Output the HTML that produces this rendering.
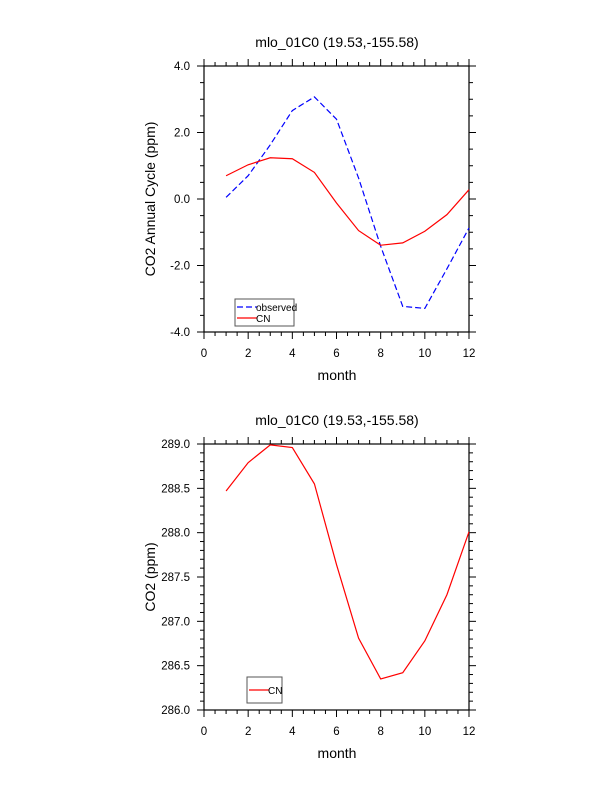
<!DOCTYPE html>
<html><head><meta charset="utf-8"><style>
html,body{margin:0;padding:0;background:#fff;}
svg{display:block;font-family:"Liberation Sans",Arial,sans-serif;}
</style></head><body>
<svg id="chart" width="612" height="792" xmlns="http://www.w3.org/2000/svg"></svg>
<script>
const months=[1,2,3,4,5,6,7,8,9,10,11,12];
const observedCycle=[0.05,0.70,1.63,2.66,3.07,2.40,0.63,-1.42,-3.23,-3.29,-2.10,-0.87];
const cnCycle=[0.70,1.03,1.24,1.21,0.80,-0.12,-0.95,-1.39,-1.32,-0.97,-0.47,0.28];
const cnCO2=[288.47,288.79,288.99,288.96,288.55,287.64,286.81,286.35,286.42,286.78,287.30,288.01];
const xTicks=[0,2,4,6,8,10,12];
const yTicks1=["-4.0","-2.0","0.0","2.0","4.0"];
const yTicks2=["286.0","286.5","287.0","287.5","288.0","288.5","289.0"];

const NS="http://www.w3.org/2000/svg";
const svg=document.getElementById('chart');
function mk(tag,attrs,parent){const e=document.createElementNS(NS,tag);for(const k in attrs)e.setAttribute(k,attrs[k]);(parent||svg).appendChild(e);return e;}

function panel(cfg){
  const L=204,R=469,T=cfg.top,B=cfg.bottom;
  const g=mk('g',{});
  
  
  const xs=v=>L+(v-0)/12*(R-L);
  const ys=v=>B-(v-cfg.ymin)/(cfg.ymax-cfg.ymin)*(B-T);
  for(let v=0;v<=12.001;v+=0.5){
    const maj=Math.abs(v%2)<1e-6;const len=maj?7:4;const x=xs(v);
    mk('line',{x1:x,y1:B,x2:x,y2:B+len,stroke:'#000','stroke-width':1},g);
    mk('line',{x1:x,y1:T,x2:x,y2:T-len,stroke:'#000','stroke-width':1},g);
  }
  const n=Math.round((cfg.ymax-cfg.ymin)/cfg.minor);
  for(let i=0;i<=n;i++){
    const v=cfg.ymin+i*cfg.minor;const maj=i%cfg.per===0;const len=maj?7:4;const y=ys(v);
    mk('line',{x1:L,y1:y,x2:L-len,y2:y,stroke:'#000','stroke-width':1},g);
    mk('line',{x1:R,y1:y,x2:R+len,y2:y,stroke:'#000','stroke-width':1},g);
  }
  mk('rect',{x:L,y:T,width:R-L,height:B-T,fill:'none',stroke:'#000','stroke-width':1.2},g);
  xTicks.forEach(v=>{const t=mk('text',{x:xs(v),y:B+25,'font-size':11.5,'text-anchor':'middle'},g);t.textContent=v;
    });
  cfg.yt.forEach(s=>{const t=mk('text',{x:L-14,y:ys(parseFloat(s))+4,'font-size':11.5,'text-anchor':'end'},g);t.textContent=s;
    });
  const tt=mk('text',{x:337,y:T-19,'font-size':14,'text-anchor':'middle'},g);tt.textContent='mlo_01C0 (19.53,-155.58)';
  
  const xt=mk('text',{x:337,y:B+48,'font-size':14,'text-anchor':'middle'},g);xt.textContent='month';
  
  const yc=(T+B)/2;
  const yt=mk('text',{x:cfg.ylx,y:yc,'font-size':14,'text-anchor':'middle',transform:`rotate(-90 ${cfg.ylx} ${yc})`},g);yt.textContent=cfg.ylabel;
  
  cfg.series.forEach(s=>{
    const p=mk('polyline',{points:months.map((m,i)=>xs(m)+','+ys(s.vals[i])).join(' '),fill:'none',stroke:s.color,'stroke-width':1.2},g);
    if(s.dash)p.setAttribute('stroke-dasharray',s.dash);
    
  });
  return g;
}
panel({name:'annual-cycle-panel',top:66,bottom:332,ymin:-4,ymax:4,minor:0.5,per:4,yt:yTicks1,ylabel:'CO2 Annual Cycle (ppm)',ylx:155,
  series:[{name:'observed-line',vals:observedCycle,color:'#0000ff',dash:'6,3'},{name:'cn-line',vals:cnCycle,color:'#ff0000'}]});
panel({name:'co2-panel',top:444,bottom:710,ymin:286,ymax:289,minor:0.1,per:5,yt:yTicks2,ylabel:'CO2 (ppm)',ylx:155,
  series:[{name:'cn-co2-line',vals:cnCO2,color:'#ff0000'}]});
</script>
<script>
(function(){
  const NS="http://www.w3.org/2000/svg";const svg=document.getElementById('chart');
  function mk(tag,attrs,parent){const e=document.createElementNS(NS,tag);for(const k in attrs)e.setAttribute(k,attrs[k]);(parent||svg).appendChild(e);return e;}
  const l1=mk('g',{});
  
  
  mk('rect',{x:235,y:299,width:59,height:27,fill:'#fff',stroke:'#555','stroke-width':1},l1);
  mk('line',{x1:237,y1:307,x2:257,y2:307,stroke:'#0000ff','stroke-width':1.2,'stroke-dasharray':'6,3'},l1);
  let t=mk('text',{x:256,y:311,'font-size':10},l1);t.textContent='observed';
  mk('line',{x1:237,y1:318,x2:257,y2:318,stroke:'#ff0000','stroke-width':1.2},l1);
  t=mk('text',{x:256,y:322,'font-size':10},l1);t.textContent='CN';
  const l2=mk('g',{});
  
  
  mk('rect',{x:247,y:677,width:35,height:26,fill:'#fff',stroke:'#555','stroke-width':1},l2);
  mk('line',{x1:249,y1:690,x2:269,y2:690,stroke:'#ff0000','stroke-width':1.2},l2);
  t=mk('text',{x:268,y:694,'font-size':10},l2);t.textContent='CN';
})();
</script>
</body></html>
